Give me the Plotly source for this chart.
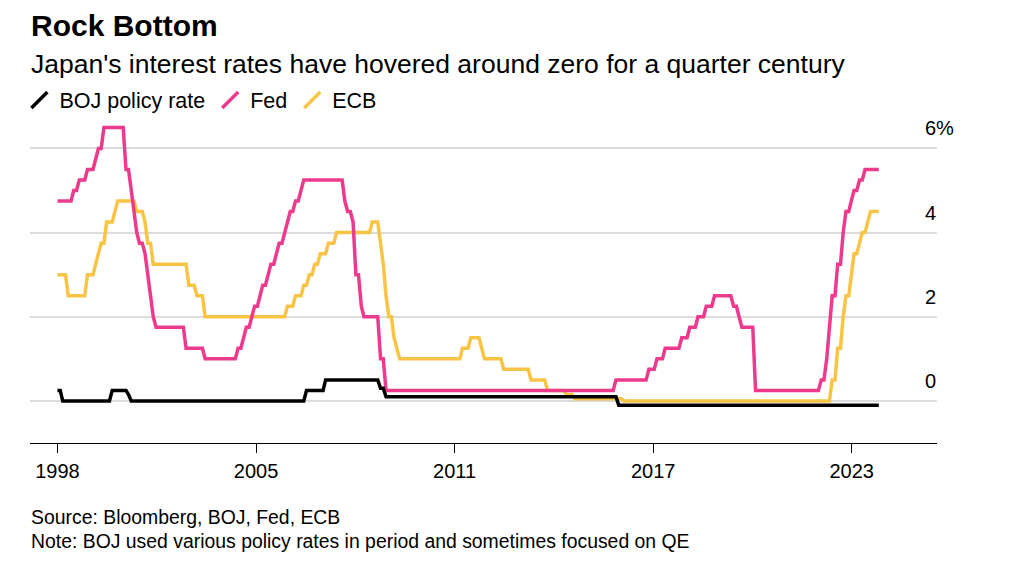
import pandas as pd
import plotly.graph_objects as go

# ---- data: policy-rate change points (month, rate %) ----
boj_months = ["1998-12", "1999-02", "2000-08", "2001-02", "2001-03", "2006-07",
              "2007-02", "2008-10", "2008-12", "2016-01"]
boj_rates = [0.25, 0.00, 0.25, 0.15, 0.00, 0.25, 0.50, 0.30, 0.10, -0.10]

fed_months = ["1998-12", "1999-06", "1999-08", "1999-11", "2000-02", "2000-03", "2000-05",
              "2001-01", "2001-03", "2001-04", "2001-05", "2001-06", "2001-08", "2001-09",
              "2001-10", "2001-11", "2001-12", "2002-11", "2003-06", "2004-06", "2004-08",
              "2004-09", "2004-11", "2004-12", "2005-02", "2005-03", "2005-05", "2005-06",
              "2005-08", "2005-09", "2005-11", "2005-12", "2006-01", "2006-03", "2006-05",
              "2006-06", "2007-09", "2007-10", "2007-12", "2008-01", "2008-03", "2008-04",
              "2008-10", "2008-12", "2015-12", "2016-12", "2017-03", "2017-06", "2017-12",
              "2018-03", "2018-06", "2018-09", "2018-12", "2019-07", "2019-09", "2019-10",
              "2020-03", "2022-03", "2022-05", "2022-06", "2022-07", "2022-09", "2022-11",
              "2022-12", "2023-02", "2023-03", "2023-05", "2023-07"]
fed_rates = [4.75, 5.00, 5.25, 5.50, 5.75, 6.00, 6.50,
             5.50, 5.00, 4.50, 4.00, 3.75, 3.50, 3.00,
             2.50, 2.00, 1.75, 1.25, 1.00, 1.25, 1.50,
             1.75, 2.00, 2.25, 2.50, 2.75, 3.00, 3.25,
             3.50, 3.75, 4.00, 4.25, 4.50, 4.75, 5.00,
             5.25, 4.75, 4.50, 4.25, 3.00, 2.25, 2.00,
             1.00, 0.25, 0.50, 0.75, 1.00, 1.25, 1.50,
             1.75, 2.00, 2.25, 2.50, 2.25, 2.00, 1.75,
             0.25, 0.50, 1.00, 1.75, 2.50, 3.25, 4.00,
             4.50, 4.75, 5.00, 5.25, 5.50]

ecb_months = ["1998-12", "1999-04", "1999-11", "2000-02", "2000-03", "2000-04", "2000-06",
              "2000-09", "2000-10", "2001-05", "2001-08", "2001-09", "2001-11", "2002-12",
              "2003-03", "2003-06", "2005-12", "2006-03", "2006-06", "2006-08", "2006-10",
              "2006-12", "2007-03", "2007-06", "2008-07", "2008-10", "2008-11", "2008-12",
              "2009-01", "2009-03", "2009-04", "2009-05", "2011-04", "2011-07", "2011-11",
              "2011-12", "2012-07", "2013-05", "2013-11", "2014-06", "2014-09", "2016-03",
              "2022-07", "2022-09", "2022-11", "2022-12", "2023-02", "2023-03", "2023-05",
              "2023-06", "2023-08", "2023-09"]
ecb_rates = [3.00, 2.50, 3.00, 3.25, 3.50, 3.75, 4.25,
             4.50, 4.75, 4.50, 4.25, 3.75, 3.25, 2.75,
             2.50, 2.00, 2.25, 2.50, 2.75, 3.00, 3.25,
             3.50, 3.75, 4.00, 4.25, 3.75, 3.25, 2.50,
             2.00, 1.50, 1.25, 1.00, 1.25, 1.50, 1.25,
             1.00, 0.75, 0.50, 0.25, 0.15, 0.05, 0.00,
             0.50, 1.25, 2.00, 2.50, 3.00, 3.50, 3.75,
             4.00, 4.25, 4.50]

first_month, last_month = "1998-12", "2023-12"

tick_dates = ["1998-12-31", "2005-01-16", "2011-02-01", "2017-02-17", "2023-03-05"]
tick_labels = ["1998", "2005", "2011", "2017", "2023"]
y_ticks = [0, 2, 4, 6]
y_tick_labels = ["0", "2", "4", "6%"]

names = ["BOJ policy rate", "Fed", "ECB"]
colors = ["#000000", "#EE3A8C", "#F8C446"]

# ---- monthly step series (rate holds until the next change) ----
periods = pd.period_range(first_month, last_month, freq="M")
dates = [p.end_time.strftime("%Y-%m-%d") for p in periods]


def monthly(months, rates):
    s = pd.Series(rates, index=pd.PeriodIndex(months, freq="M"))
    return s.reindex(periods).ffill().tolist()


series = {
    "BOJ policy rate": monthly(boj_months, boj_rates),
    "Fed": monthly(fed_months, fed_rates),
    "ECB": monthly(ecb_months, ecb_rates),
}

FONT = "Liberation Sans, Arial, Helvetica, sans-serif"
W, H = 1026, 556   # page adds an 8px body margin

fig = go.Figure()

# lines (ECB below, BOJ on top)
for name, color in [("ECB", colors[2]), ("Fed", colors[1]), ("BOJ policy rate", colors[0])]:
    fig.add_trace(go.Scatter(x=dates, y=series[name], mode="lines", name=name,
                             line=dict(color=color, width=3.5), showlegend=False,
                             hoverinfo="x+y+name"))

# legend entries with diagonal stroke symbols
for name, color in zip(names, colors):
    fig.add_trace(go.Scatter(x=[None], y=[None], mode="markers", name=name,
                             marker=dict(symbol="line-ne", size=16, color=color,
                                         line=dict(color=color, width=3.5)),
                             showlegend=True))

fig.update_layout(
    width=W, height=H,
    margin=dict(l=22, r=97, t=111, b=121, autoexpand=False),
    paper_bgcolor="white", plot_bgcolor="white",
    font=dict(family=FONT, color="#000000", size=20),
    showlegend=True,
    legend=dict(orientation="h", xref="container", yref="container",
                x=11.4 / W, y=1 - 92 / H, xanchor="left", yanchor="middle",
                font=dict(size=21.5, family=FONT), itemclick=False,
                bgcolor="rgba(0,0,0,0)", traceorder="normal"),
    xaxis=dict(type="date", range=["1998-03-01", "2025-10-08"],
               tickvals=tick_dates, ticktext=tick_labels,
               showgrid=False, zeroline=False,
               showline=True, linecolor="#000000", linewidth=1.2,
               ticks="outside", ticklen=9, tickwidth=1.2, tickcolor="#000000",
               ticklabelstandoff=1,
               tickfont=dict(size=20, family=FONT)),
    yaxis=dict(range=[-1, 6.7], tickvals=y_ticks, ticktext=y_tick_labels,
               side="right", showgrid=True, gridcolor="#DCDCDC", gridwidth=1.5,
               zeroline=False, showline=False, ticks="",
               ticklabelposition="outside", ticklabelstandoff=-13, ticklabelshift=-20,
               tickfont=dict(size=20, family=FONT)),
)

def px_x(px):
    return (px - 30) / 907.0

def px_y(py):
    return (443 - py) / 324.0

annots = [
    dict(text="<b>Rock Bottom</b>", x=px_x(29), y=px_y(25), size=30),
    dict(text="Japan's interest rates have hovered around zero for a quarter century",
         x=px_x(29), y=px_y(64), size=26.5),
    dict(text="Source: Bloomberg, BOJ, Fed, ECB", x=px_x(29), y=px_y(517), size=19.4),
    dict(text="Note: BOJ used various policy rates in period and sometimes focused on QE",
         x=px_x(29), y=px_y(541), size=19.4),
]
for a in annots:
    fig.add_annotation(text=a["text"], x=a["x"], y=a["y"], xref="paper", yref="paper",
                       xanchor="left", yanchor="middle", showarrow=False,
                       font=dict(size=a["size"], family=FONT, color="#000000"))

fig.write_html("out.html")
